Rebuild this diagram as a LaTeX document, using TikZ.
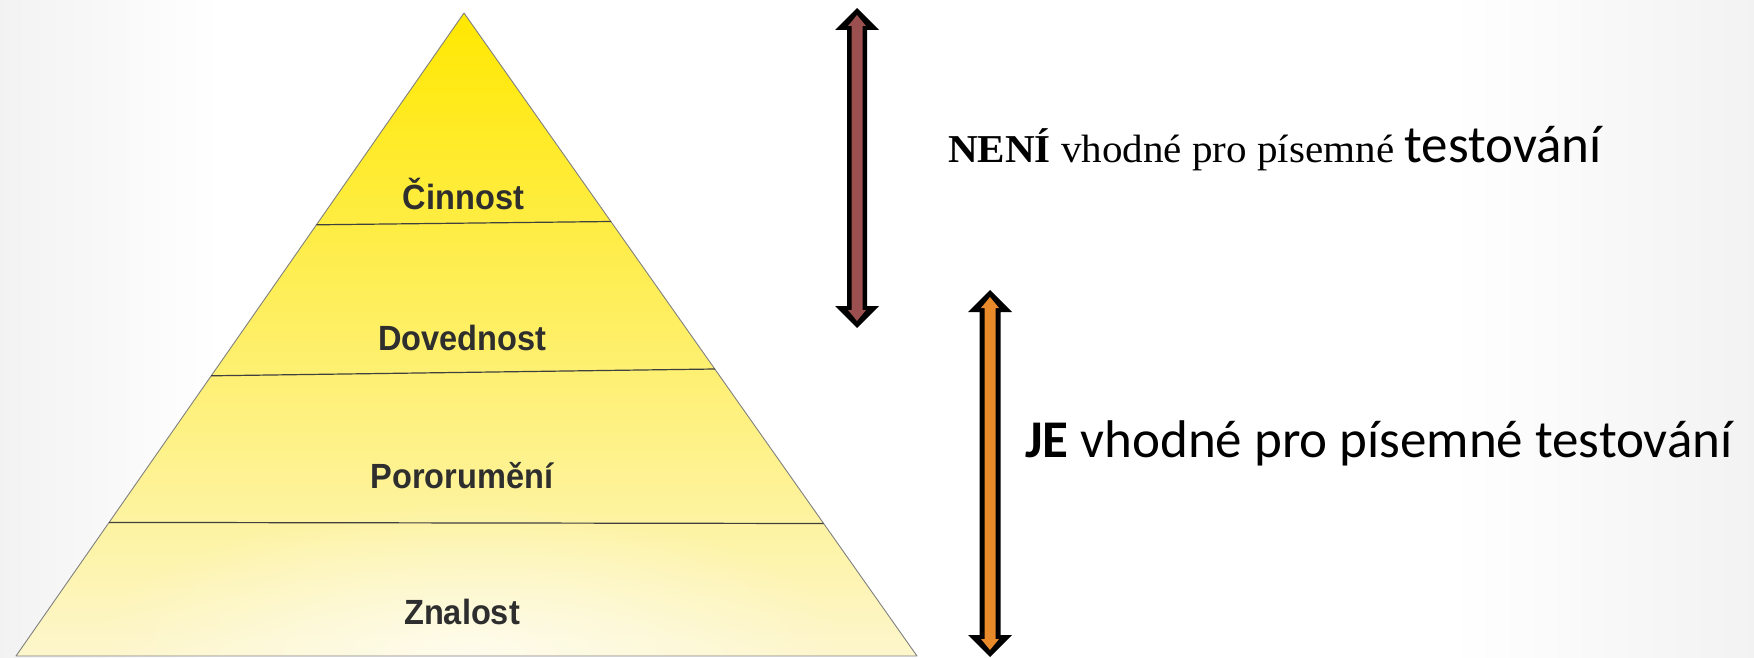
\documentclass[tikz,border=0pt]{standalone}
\usepackage{fontspec}
\usetikzlibrary{fadings}
\setmainfont{Liberation Sans}
\newfontfamily\lblfont[FakeStretch=0.93]{Liberation Sans}
\newfontfamily\serifx[FakeStretch=1.04]{Liberation Serif}
\newfontfamily\calib{Carlito}
\definecolor{ytop}{HTML}{FFE800}
\definecolor{ymid}{HTML}{FDF08A}
\definecolor{ybot}{HTML}{FDF6CC}
\definecolor{brownarr}{HTML}{9C4F4F}
\definecolor{orangearr}{HTML}{E8892A}
\definecolor{lbl}{HTML}{2E2E2E}
\tikzfading[name=glow, inner color=transparent!35, outer color=transparent!100]
\tikzset{
  divline/.style={draw=black!75, line width=1.2pt},
  edgeline/.style={draw=black!50, line width=0.9pt},
  lvl/.style={font=\lblfont\bfseries\fontsize{35}{38}\selectfont, text=lbl, anchor=base, inner sep=0pt},
  arrowout/.style={fill=black},
}
\begin{document}
\begin{tikzpicture}[x=1pt,y=-1pt]
\useasboundingbox (0,0) rectangle (1754,658);
% background
\fill[white] (0,0) rectangle (1754,658);
\shade[left color=black!5, right color=white] (0,0) rectangle (220,658);
\shade[left color=white, right color=black!5] (1450,0) rectangle (1754,658);
% pyramid
\coordinate (apex) at (464,13);
\coordinate (bl) at (16,656);
\coordinate (br) at (917,656);
\coordinate (l1l) at (316.4,224.8);
\coordinate (l1r) at (610.9,221.5);
\coordinate (l2l) at (211.2,375.8);
\coordinate (l2r) at (714.8,369);
\coordinate (l3l) at (109.1,522.4);
\coordinate (l3r) at (823.6,523.5);
\shade[top color=ytop, middle color=ymid, bottom color=ybot] (apex) -- (br) -- (bl) -- cycle;
\begin{scope}
  \clip (apex) -- (br) -- (bl) -- cycle;
  \fill[white, path fading=glow] (470,655) ellipse (380 and 150);
\end{scope}
\draw[edgeline, line join=round] (apex) -- (br) -- (bl) -- cycle;
\draw[divline] (l1l) -- (l1r);
\draw[divline] (l2l) -- (l2r);
\draw[divline] (l3l) -- (l3r);
\node[lvl] (cin) at (463.5,209) {Činnost};
\node[lvl] (dov) at (462.5,350) {Dovednost};
\node[lvl] (por) at (462,488) {Pororumění};
\node[lvl] (zna) at (462,624) {Znalost};
% brown double arrow
\def\cx{857}\def\ty{8}\def\by{328}
\fill[arrowout] (\cx,\ty) -- (\cx+22,\ty+22) -- (\cx+10,\ty+22) -- (\cx+10,\by-22) -- (\cx+22,\by-22) -- (\cx,\by)
  -- (\cx-22,\by-22) -- (\cx-10,\by-22) -- (\cx-10,\ty+22) -- (\cx-22,\ty+22) -- cycle;
\fill[brownarr] (\cx,\ty+7) -- (\cx+9,\ty+18) -- (\cx+5.5,\ty+18) -- (\cx+5.5,\by-18) -- (\cx+9,\by-18) -- (\cx,\by-7)
  -- (\cx-9,\by-18) -- (\cx-5.5,\by-18) -- (\cx-5.5,\ty+18) -- (\cx-9,\ty+18) -- cycle;
% orange double arrow
\def\cx{990}\def\ty{290}\def\by{657}
\fill[arrowout] (\cx,\ty) -- (\cx+22,\ty+22) -- (\cx+10.5,\ty+22) -- (\cx+10.5,\by-22) -- (\cx+22,\by-22) -- (\cx,\by)
  -- (\cx-22,\by-22) -- (\cx-10.5,\by-22) -- (\cx-10.5,\ty+22) -- (\cx-22,\ty+22) -- cycle;
\fill[orangearr] (\cx,\ty+7) -- (\cx+9,\ty+18) -- (\cx+5.5,\ty+18) -- (\cx+5.5,\by-18) -- (\cx+9,\by-18) -- (\cx,\by-7)
  -- (\cx-9,\by-18) -- (\cx-5.5,\by-18) -- (\cx-5.5,\ty+18) -- (\cx-9,\ty+18) -- cycle;
% texts
\node[anchor=base west, inner sep=0pt] (t1) at (948,163)
  {\serifx\fontsize{39.5}{42}\selectfont\textbf{NENÍ} vhodné pro písemné \calib\fontsize{53}{60}\selectfont testování};
\node[anchor=base west, inner sep=0pt] (t2) at (1025,457)
  {\calib\fontsize{53}{60}\selectfont\textbf{JE} vhodné pro písemné testování};
\end{tikzpicture}
\end{document}
